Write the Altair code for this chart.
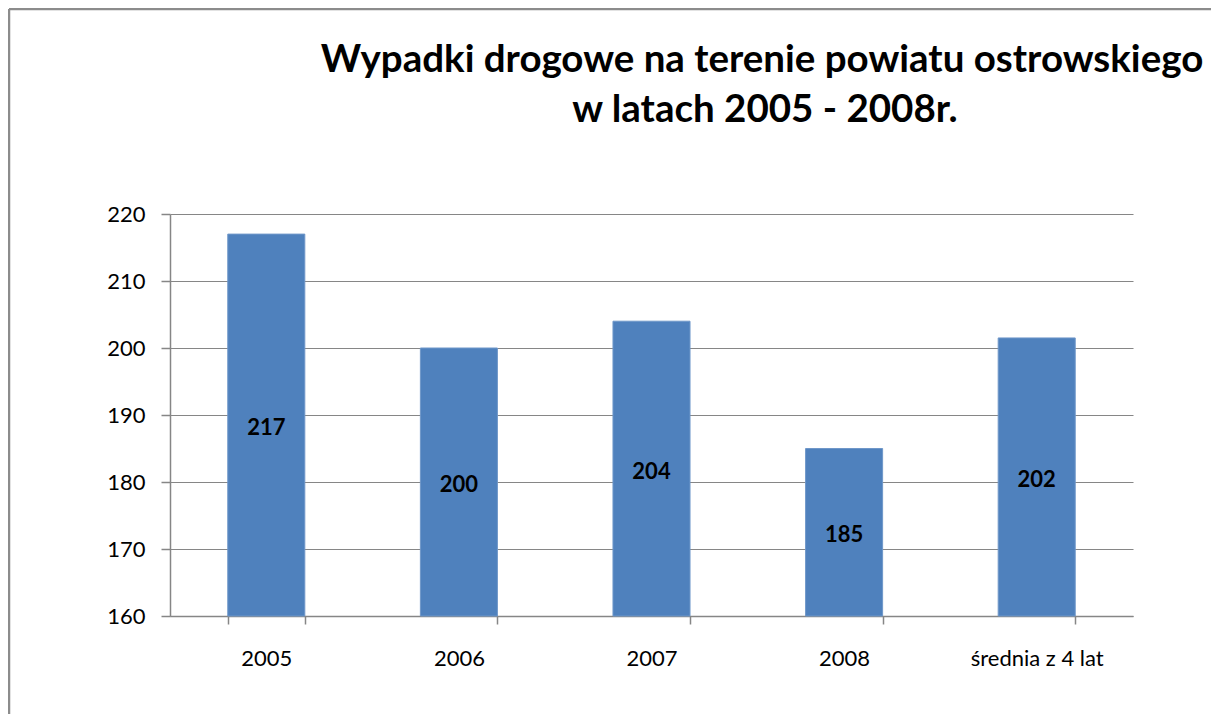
import altair as alt
import pandas as pd

categories = ["2005", "2006", "2007", "2008", "średnia z 4 lat"]
values = [217, 200, 204, 185, 201.5]
y_ticks = [160, 170, 180, 190, 200, 210, 220]
title_lines = ["Wypadki drogowe na terenie powiatu ostrowskiego", "w latach 2005 - 2008r."]

df = pd.DataFrame({"kategoria": categories, "wartosc": values})

FONT = "Lato"
GRAY = "#868686"

base = alt.Chart(df).encode(
    x=alt.X(
        "kategoria:N",
        sort=categories,
        scale=alt.Scale(paddingInner=0.6, paddingOuter=0.3),
        axis=alt.Axis(
            title=None,
            labelAngle=0,
            labelFont=FONT,
            labelFontSize=22,
            labelColor="black",
            labelPadding=24,
            tickBand="extent",
            tickSize=8,
            tickColor=GRAY,
            tickWidth=1.5,
            domainColor=GRAY,
            domainWidth=1.5,
            grid=False,
        ),
    )
)

bars = base.mark_bar(color="#4F81BD", stroke="#6F97C9", strokeWidth=1).encode(
    y=alt.Y(
        "wartosc:Q",
        scale=alt.Scale(domain=[160, 220], zero=False, nice=False),
        axis=alt.Axis(
            title=None,
            values=y_ticks,
            labelFont=FONT,
            labelFontSize=22,
            labelColor="black",
            labelPadding=16,
            tickSize=9,
            tickColor=GRAY,
            tickWidth=1.5,
            domainColor=GRAY,
            domainWidth=1.5,
            grid=True,
            gridColor=GRAY,
            gridWidth=1.2,
        ),
    ),
    y2=alt.datum(160),
)

labels = base.transform_calculate(
    mid="(datum.wartosc + 160) / 2"
).mark_text(font=FONT, fontSize=22, fontWeight="bold", color="black", dy=3).encode(
    y=alt.Y("mid:Q", scale=alt.Scale(domain=[160, 220], zero=False, nice=False)),
    text=alt.Text("wartosc:Q", format=".0f"),
)

frame_df = pd.DataFrame({"k": [0]})
left_border = alt.Chart(frame_df).mark_rule(color="#8c8c8c", strokeWidth=2.5).encode(
    x=alt.value(-161), y=alt.value(-205), y2=alt.value(600)
)
top_border = alt.Chart(frame_df).mark_rule(color="#8c8c8c", strokeWidth=2.5).encode(
    x=alt.value(-161), x2=alt.value(1100), y=alt.value(-205)
)

title_style = dict(font=FONT, fontSize=38.5, fontWeight="bold", color="black",
                   align="center", baseline="alphabetic")
title1 = alt.Chart(frame_df).mark_text(**title_style).encode(
    x=alt.value(592), y=alt.value(-142), text=alt.value(title_lines[0])
)
title2 = alt.Chart(frame_df).mark_text(**title_style).encode(
    x=alt.value(595), y=alt.value(-92), text=alt.value(title_lines[1])
)

chart = alt.layer(bars, labels, left_border, top_border, title1, title2).properties(
    width=963,
    height=402,
    autosize=alt.AutoSizeParams(type="none"),
    padding={"left": 162, "top": 206, "right": 78, "bottom": 98},
).configure(background="white").configure_view(stroke=None)

chart.save("out.html", embed_options={"renderer": "svg", "actions": False})
